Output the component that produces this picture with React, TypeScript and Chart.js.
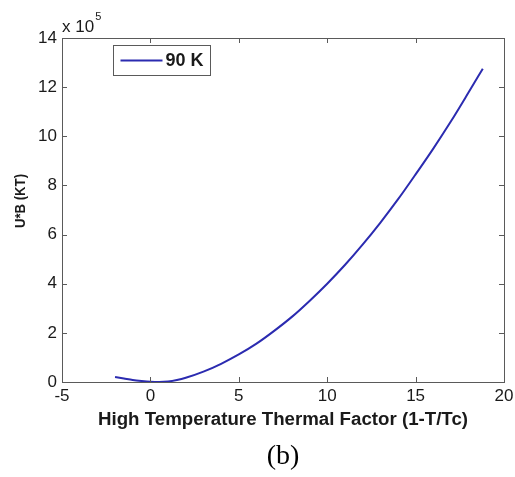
import React, { useEffect, useRef } from 'react';
import { Chart, registerables } from 'chart.js';

Chart.register(...registerables);

// ---- data (y in units of 10^5 KT) ----
const xValues = [-2, -1.5, -1, -0.5, 0, 0.5, 1, 1.5, 2, 3, 4, 5, 6, 7, 8, 9, 10, 11, 12, 13, 14, 15, 16, 17, 18, 18.8];
const yValues = [0.2, 0.14, 0.08, 0.04, 0.01, 0.0, 0.02, 0.08, 0.17, 0.42, 0.74, 1.12, 1.56, 2.08, 2.65, 3.3, 4.0, 4.76, 5.59, 6.48, 7.43, 8.45, 9.5, 10.61, 11.79, 12.75];
const xTickValues = [-5, 0, 5, 10, 15, 20];
const yTickValues = [0, 2, 4, 6, 8, 10, 12, 14];
const seriesLabel = '90 K';
const xTitle = 'High Temperature Thermal Factor (1-T/Tc)';
const yTitle = 'U*B (KT)';
const exponentBase = 'x 10';
const exponentPower = '5';
const caption = '(b)';

const FONT = '"Liberation Sans", Arial, sans-serif';
const LINE_COLOR = '#2b2bb0';
const FRAME_COLOR = '#5a5a5a';
const TEXT_COLOR = '#1a1a1a';

const decorPlugin = {
  id: 'decor',
  afterDraw(chart: any) {
    const { ctx, chartArea, scales } = chart;
    const { left, right, top, bottom } = chartArea;
    const xs = scales.x;
    const ys = scales.y;
    ctx.save();
    // frame
    ctx.strokeStyle = FRAME_COLOR;
    ctx.lineWidth = 1;
    ctx.strokeRect(Math.round(left) + 0.5, Math.round(top) + 0.5, Math.round(right - left), Math.round(bottom - top));
    // inward ticks
    const tl = 5;
    ctx.beginPath();
    xTickValues.forEach((v) => {
      const px = Math.round(xs.getPixelForValue(v)) + 0.5;
      ctx.moveTo(px, bottom);
      ctx.lineTo(px, bottom - tl);
      ctx.moveTo(px, top);
      ctx.lineTo(px, top + tl);
    });
    yTickValues.forEach((v) => {
      const py = Math.round(ys.getPixelForValue(v)) + 0.5;
      ctx.moveTo(left, py);
      ctx.lineTo(left + tl, py);
      ctx.moveTo(right, py);
      ctx.lineTo(right - tl, py);
    });
    ctx.stroke();

    // legend box
    const ds = chart.data.datasets[0];
    const bx = Math.round(left) + 51.5;
    const by = Math.round(top) + 7.5;
    const bw = 97;
    const bh = 30;
    ctx.fillStyle = '#ffffff';
    ctx.fillRect(bx, by, bw, bh);
    ctx.strokeStyle = FRAME_COLOR;
    ctx.strokeRect(bx, by, bw, bh);
    ctx.strokeStyle = ds.borderColor;
    ctx.lineWidth = 2;
    ctx.beginPath();
    ctx.moveTo(bx + 7, by + bh / 2);
    ctx.lineTo(bx + 49, by + bh / 2);
    ctx.stroke();
    ctx.fillStyle = TEXT_COLOR;
    ctx.font = `bold 18px ${FONT}`;
    ctx.textAlign = 'left';
    ctx.textBaseline = 'middle';
    ctx.fillText(ds.label, bx + 52, by + bh / 2 + 1);

    // x title
    ctx.font = `bold 18px ${FONT}`;
    ctx.textAlign = 'center';
    const tw = ctx.measureText(xTitle).width;
    const sx = 370 / tw;
    ctx.save();
    ctx.translate((left + right) / 2, 420);
    ctx.scale(sx, 1);
    ctx.fillText(xTitle, 0, 0);
    ctx.restore();

    // y title
    ctx.save();
    ctx.translate(21, 201);
    ctx.rotate(-Math.PI / 2);
    ctx.font = `bold 14px ${FONT}`;
    ctx.textAlign = 'center';
    ctx.textBaseline = 'middle';
    const yw = ctx.measureText(yTitle).width;
    ctx.scale(54 / yw, 1);
    ctx.fillText(yTitle, 0, 0);
    ctx.restore();

    // exponent
    ctx.font = `17px ${FONT}`;
    ctx.textAlign = 'left';
    ctx.textBaseline = 'alphabetic';
    ctx.fillText(exponentBase, 62, 32);
    const w = ctx.measureText(exponentBase).width;
    ctx.font = `11px ${FONT}`;
    ctx.fillText(exponentPower, 62 + w + 1, 20);
    ctx.restore();
  },
};

export default function App() {
  const canvasRef = useRef<HTMLCanvasElement | null>(null);

  useEffect(() => {
    const canvas = canvasRef.current;
    if (!canvas) return;
    const points = xValues.map((x, i) => ({ x, y: yValues[i] }));
    const chart = new Chart(canvas, {
      type: 'line',
      data: {
        datasets: [
          {
            label: seriesLabel,
            data: points,
            borderColor: LINE_COLOR,
            borderWidth: 2,
            pointRadius: 0,
            fill: false,
            cubicInterpolationMode: 'monotone',
          },
        ],
      },
      options: {
        responsive: false,
        animation: false,
        layout: { padding: { top: 38, right: 11, left: 0, bottom: 0 } },
        plugins: {
          legend: { display: false },
          tooltip: { enabled: false },
        },
        scales: {
          x: {
            type: 'linear',
            min: -5,
            max: 20,
            afterBuildTicks: (scale: any) => {
              scale.ticks = xTickValues.map((v) => ({ value: v }));
            },
            afterFit: (scale: any) => {
              scale.height = 95;
              scale.paddingLeft = 0;
              scale.paddingRight = 0;
            },
            grid: { drawOnChartArea: false, drawTicks: false },
            border: { display: true, color: FRAME_COLOR },
            ticks: {
              padding: 4,
              color: TEXT_COLOR,
              font: { family: FONT, size: 17 },
              maxRotation: 0,
              autoSkip: false,
            },
          },
          y: {
            type: 'linear',
            min: 0,
            max: 14,
            afterBuildTicks: (scale: any) => {
              scale.ticks = yTickValues.map((v) => ({ value: v }));
            },
            afterFit: (scale: any) => {
              scale.width = 62;
              scale.paddingTop = 0;
              scale.paddingBottom = 0;
            },
            grid: { drawOnChartArea: false, drawTicks: false },
            border: { display: true, color: FRAME_COLOR },
            ticks: {
              padding: 5,
              color: TEXT_COLOR,
              font: { family: FONT, size: 17 },
              autoSkip: false,
            },
          },
        },
      },
      plugins: [decorPlugin],
    } as any);
    return () => chart.destroy();
  }, []);

  return (
    <div style={{ position: 'absolute', left: 0, top: 0, width: 515, height: 477, background: '#fff' }}>
      <canvas ref={canvasRef} width={515} height={477} style={{ display: 'block', width: 515, height: 477 }} />
      <div
        style={{
          position: 'absolute',
          left: 0,
          width: 566,
          top: 435,
          textAlign: 'center',
          fontFamily: '"Liberation Serif", "Times New Roman", serif',
          fontSize: 28,
          color: '#000',
          lineHeight: '40px',
        }}
      >
        {caption}
      </div>
    </div>
  );
}
